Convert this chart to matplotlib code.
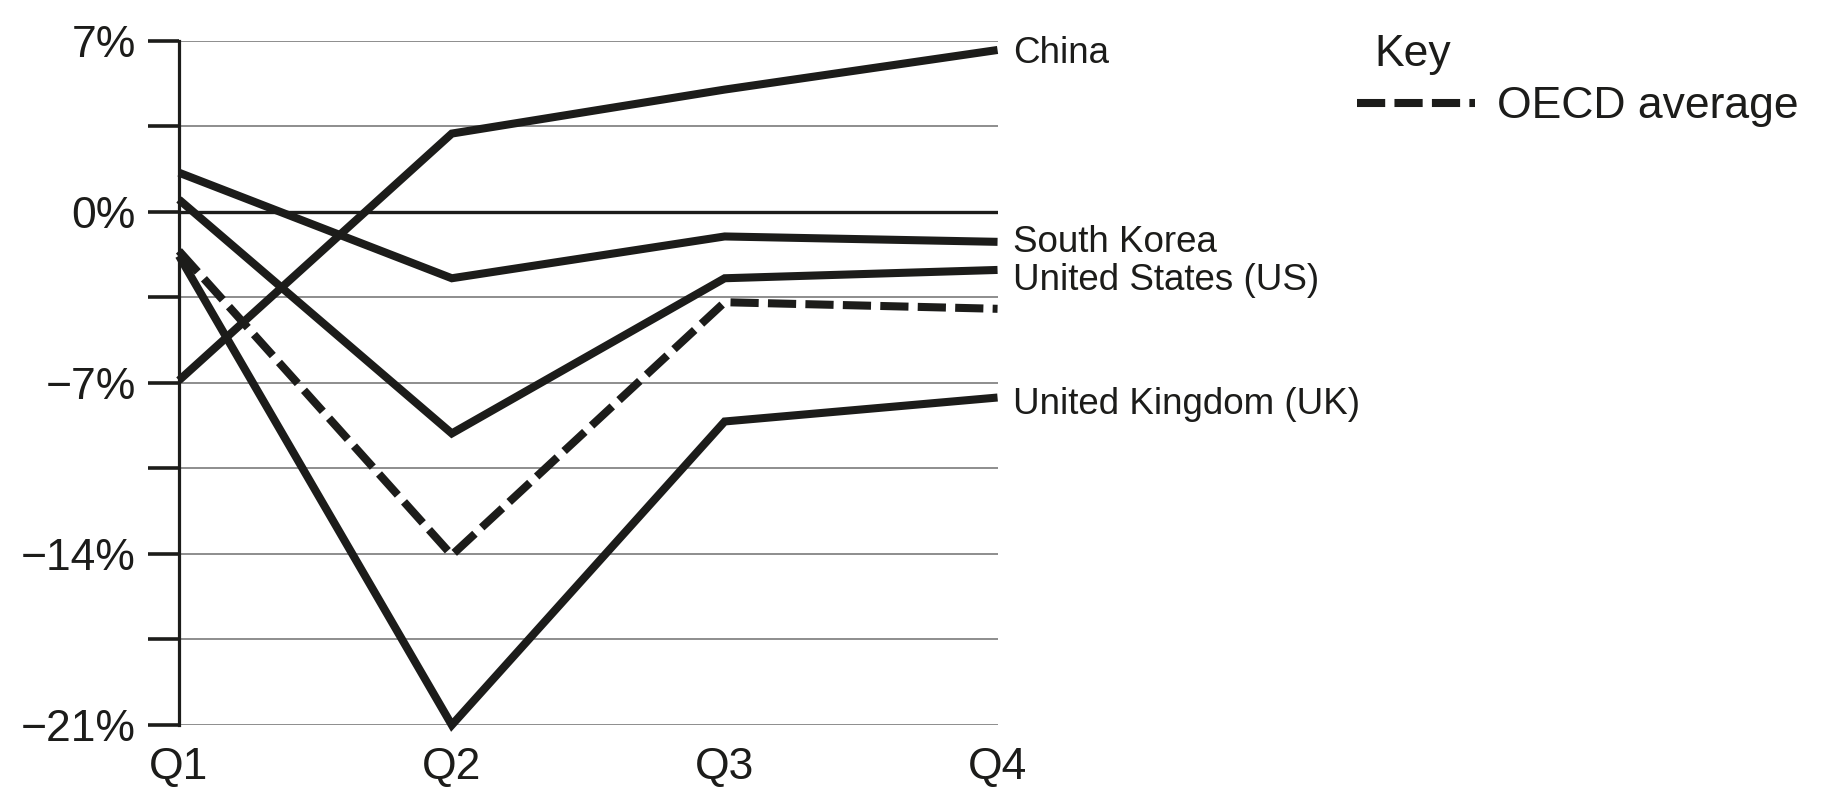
import matplotlib
matplotlib.use("Agg")
import matplotlib.pyplot as plt
from matplotlib.lines import Line2D

plt.rcParams['font.family'] = ['Liberation Sans', 'DejaVu Sans']

# quarterly change, %
quarters = ['Q1', 'Q2', 'Q3', 'Q4']
china = [-6.9, 3.2, 5.0, 6.62]
south_korea = [1.6, -2.72, -1.01, -1.23]
united_states = [0.5, -9.07, -2.72, -2.38]
united_kingdom = [-1.8, -21.0, -8.58, -7.6]
oecd_average = [-1.6, -14.05, -3.7, -3.97]

y_ticks = [7, 3.5, 0, -3.5, -7, -10.5, -14, -17.5, -21]
y_labels = ['7%', '', '0%', '', '\u22127%', '', '\u221214%', '', '\u221221%']

ink = '#1c1c1a'
lw = 5.8
dash = (3.5, 1.15)

fig = plt.figure(figsize=(18.24, 8.09), dpi=100)
ax = fig.add_axes([0.0981, 0.1038, 0.4488, 0.8459])

x = list(range(len(quarters)))

# grid lines (0% is the heavier one)
for t in y_ticks:
    if t == 0:
        ax.axhline(t, color=ink, lw=2.4, zorder=1)
    else:
        ax.axhline(t, color='#7a7a7a', lw=1.2, zorder=1)

series = [
    ('China', china, 0),
    ('South Korea', south_korea, 2.5),
    ('United States (US)', united_states, -5),
    ('United Kingdom (UK)', united_kingdom, -2.5),
]
for name, vals, dy in series:
    ax.plot(x, vals, color=ink, lw=lw, solid_joinstyle='miter',
            solid_capstyle='butt', clip_on=False, zorder=3)
    ax.annotate(name, xy=(x[-1], vals[-1]), xytext=(11, dy),
                textcoords='offset points', fontsize=26.5,
                va='center_baseline', ha='left', color=ink,
                annotation_clip=False)

ax.plot(x, oecd_average, color=ink, lw=lw, dashes=dash,
        dash_joinstyle='miter', dash_capstyle='butt', clip_on=False, zorder=3)

ax.set_xlim(0, 3)
ax.set_ylim(-21, 7)
ax.set_xticks(x)
ax.set_xticklabels(quarters)
ax.set_yticks(y_ticks)
ax.set_yticklabels(y_labels)

for s in ['top', 'right', 'bottom']:
    ax.spines[s].set_visible(False)
ax.spines['left'].set_linewidth(2.3)
ax.spines['left'].set_color(ink)

ax.tick_params(axis='y', direction='out', length=22, width=2.6, color=ink,
               labelsize=32, pad=9, labelcolor=ink)
ax.tick_params(axis='x', length=0, labelsize=32, pad=16, labelcolor=ink)

# key
fig.text(0.7533, 0.938, 'Key', fontsize=32, va='center_baseline', ha='left', color=ink)
fig.add_artist(Line2D([0.744, 0.8087], [0.8727, 0.8727], transform=fig.transFigure,
                      color=ink, lw=lw, dashes=dash, dash_capstyle='butt'))
fig.text(0.8207, 0.874, 'OECD average', fontsize=32, va='center_baseline',
         ha='left', color=ink)

fig.savefig('out.png', dpi=100)
